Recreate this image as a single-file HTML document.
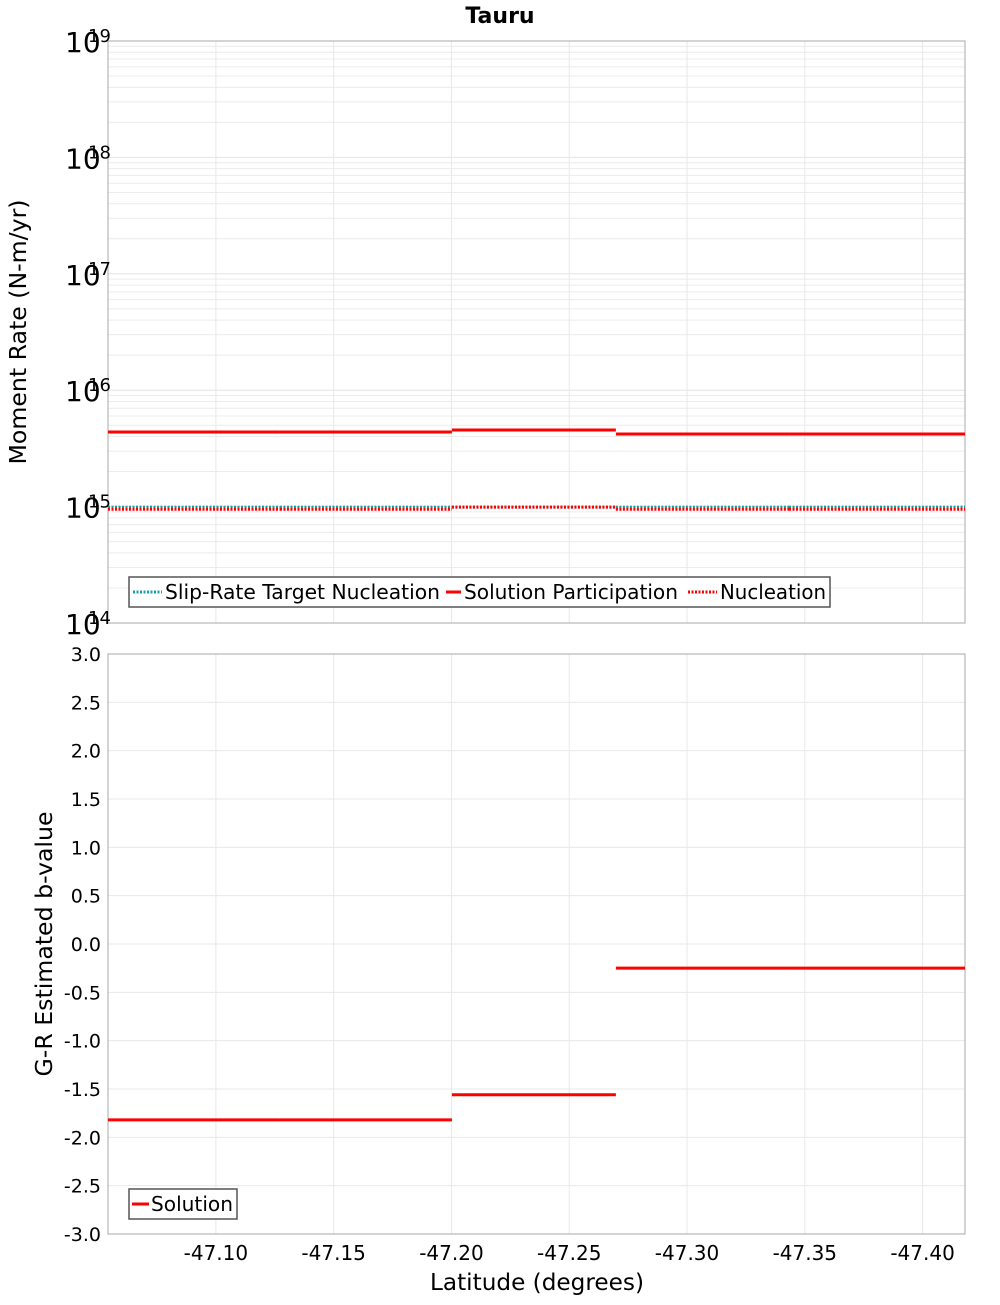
<!DOCTYPE html>
<html><head><meta charset="utf-8"><style>
body{margin:0;background:#fff;}
svg text{font-family:"DejaVu Sans","Liberation Sans",sans-serif;}
</style></head><body>
<svg id="chart" width="1000" height="1300" xmlns="http://www.w3.org/2000/svg"></svg>
<script>
// data
const segEdges = [-47.0542, -47.1272, -47.2002, -47.2698, -47.3433, -47.418];
const participation = [4.37e15, 4.37e15, 4.55e15, 4.2e15, 4.2e15];
const nucleation = [9.5e14, 9.5e14, 9.9e14, 9.5e14, 9.5e14];
const slipTarget = [9.9e14, 9.9e14, 9.9e14, 9.9e14, 9.9e14];
const bValues = [-1.82, -1.82, -1.56, -0.25, -0.25];
const xTicks = [-47.10, -47.15, -47.20, -47.25, -47.30, -47.35, -47.40];
const xTickLabels = ["-47.10","-47.15","-47.20","-47.25","-47.30","-47.35","-47.40"];
const decades = [14, 15, 16, 17, 18, 19];
const bTicks = [-3,-2.5,-2,-1.5,-1,-0.5,0,0.5,1,1.5,2,2.5,3];

const svg = document.getElementById('chart');
const NS = 'http://www.w3.org/2000/svg';
function mk(tag, attrs, name, parent){
  const el = document.createElementNS(NS, tag);
  for (const k in attrs) el.setAttribute(k, attrs[k]);
  
  
  (parent||svg).appendChild(el);
  return el;
}
const L = 108, R = 965;
const T1 = 41, B1 = 623, T2 = 654, B2 = 1234;
const xDom = [segEdges[0], segEdges[segEdges.length-1]];
const xS = v => L + (v - xDom[0]) / (xDom[1] - xDom[0]) * (R - L);
const yLog = v => B1 - (Math.log10(v) - 14) / 5 * (B1 - T1);
const yB = v => B2 - (v + 3) / 6 * (B2 - T2);

// title
const t = mk('text', {x:500, y:23, 'text-anchor':'middle', 'font-size':22, 'font-weight':'bold'}, 'chart-title');
t.textContent = 'Tauru';

// grid
const g1 = mk('g', {}, 'grid');
for (let d = 14; d < 19; d++) for (let m = 2; m <= 9; m++) {
  const y = yLog(m * Math.pow(10, d));
  mk('line', {x1:L, x2:R, y1:y, y2:y, stroke:'#ececec', 'stroke-width':1}, 'top-minor-gridline', g1);
}
decades.forEach(d => { const y = yLog(Math.pow(10, d));
  mk('line', {x1:L, x2:R, y1:y, y2:y, stroke:'#e4e4e4', 'stroke-width':1}, 'top-major-gridline', g1); });
xTicks.forEach(v => { const x = xS(v);
  mk('line', {x1:x, x2:x, y1:T1, y2:B1, stroke:'#e8e8e8', 'stroke-width':1}, 'top-x-gridline', g1);
  mk('line', {x1:x, x2:x, y1:T2, y2:B2, stroke:'#e8e8e8', 'stroke-width':1}, 'bottom-x-gridline', g1); });
bTicks.forEach(v => { const y = yB(v);
  mk('line', {x1:L, x2:R, y1:y, y2:y, stroke:'#e8e8e8', 'stroke-width':1}, 'bottom-y-gridline', g1); });

// frames
mk('rect', {x:L, y:T1, width:R-L, height:B1-T1, fill:'none', stroke:'#aaa'}, 'top-plot-frame');
mk('rect', {x:L, y:T2, width:R-L, height:B2-T2, fill:'none', stroke:'#aaa'}, 'bottom-plot-frame');

// y ticks top
decades.forEach(d => { const y = yLog(Math.pow(10, d));
  const tx = mk('text', {x:65, y:y+11, 'font-size':28}, 'top-y-tick-label');
  tx.textContent = '10';
  const sp = mk('text', {x:88, y:y+1, 'font-size':18}, 'top-y-tick-exponent');
  sp.textContent = String(d); });
// y ticks bottom
bTicks.forEach(v => { const y = yB(v);
  const tx = mk('text', {x:101, y:y+7, 'text-anchor':'end', 'font-size':19}, 'bottom-y-tick-label');
  tx.textContent = v.toFixed(1); });
// x ticks
xTicks.forEach((v, i) => { const x = xS(v);
  const tx = mk('text', {x:x, y:1260, 'text-anchor':'middle', 'font-size':20}, 'x-tick-label');
  tx.textContent = xTickLabels[i]; });

// axis titles
let a = mk('text', {x:26, y:332, 'text-anchor':'middle', 'font-size':23, textLength:265, lengthAdjust:'spacingAndGlyphs', transform:'rotate(-90 26 332)'}, 'top-y-axis-title');
a.textContent = 'Moment Rate (N-m/yr)';
a = mk('text', {x:52, y:944, 'text-anchor':'middle', 'font-size':23, textLength:265, lengthAdjust:'spacingAndGlyphs', transform:'rotate(-90 52 944)'}, 'bottom-y-axis-title');
a.textContent = 'G-R Estimated b-value';
a = mk('text', {x:537, y:1290, 'text-anchor':'middle', 'font-size':23, textLength:214, lengthAdjust:'spacingAndGlyphs'}, 'x-axis-title');
a.textContent = 'Latitude (degrees)';

// series
function steps(vals, yf, color, dash, name){
  const g = mk('g', {}, name);
  vals.forEach((v, i) => {
    const x1 = xS(segEdges[i]), x2 = xS(segEdges[i+1]), y = yf(v);
    const ln = mk('line', {x1:x1, x2:x2, y1:y, y2:y, stroke:color, 'stroke-width':3}, name + '-segment', g);
    if (dash) ln.setAttribute('stroke-dasharray', dash);
  });
}
steps(slipTarget, yLog, '#13a3a8', '2,1.5', 'slip-rate-target-nucleation');
steps(nucleation, yLog, '#ff0000', '2,1.5', 'nucleation');
steps(participation, yLog, '#ff0000', null, 'solution-participation');
steps(bValues, yB, '#ff0000', null, 'solution-b-value');

// legends
const lg = mk('g', {}, 'top-legend');
mk('rect', {x:129, y:577, width:701, height:30, fill:'#fff', stroke:'#555', 'stroke-width':1.5}, 'top-legend-box', lg);
const items = [[133,'#13a3a8','2,1.5','Slip-Rate Target Nucleation',275],[446,'#ff0000',null,'Solution Participation',214],[688,'#ff0000','2,1.5','Nucleation',106]];
items.forEach(it => {
  const sw = it[2] ? 29 : 15;
  const ln = mk('line', {x1:it[0], x2:it[0]+sw, y1:592, y2:592, stroke:it[1], 'stroke-width':3}, 'legend-swatch', lg);
  if (it[2]) ln.setAttribute('stroke-dasharray', it[2]);
  const tx = mk('text', {x:it[0]+sw+3, y:599, 'font-size':20, textLength:it[4], lengthAdjust:'spacingAndGlyphs'}, 'legend-entry', lg);
  tx.textContent = it[3];
});
const lg2 = mk('g', {}, 'bottom-legend');
mk('rect', {x:129, y:1189, width:108, height:30, fill:'#fff', stroke:'#555', 'stroke-width':1.5}, 'bottom-legend-box', lg2);
mk('line', {x1:132, x2:149, y1:1204, y2:1204, stroke:'#ff0000', 'stroke-width':3}, 'legend-swatch', lg2);
const tx2 = mk('text', {x:151, y:1211, 'font-size':20, textLength:82, lengthAdjust:'spacingAndGlyphs'}, 'legend-entry', lg2);
tx2.textContent = 'Solution';
</script>
</body></html>
